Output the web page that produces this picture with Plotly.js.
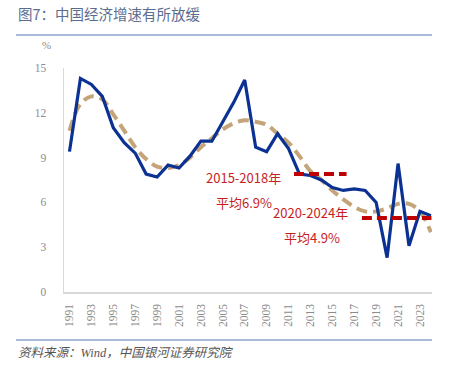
<!DOCTYPE html>
<html><head><meta charset="utf-8">
<script src="https://cdn.plot.ly/plotly-3.0.1.min.js"></script>
<style>html,body{margin:0;padding:0;background:#fff;}#chart{width:449px;height:377px;}</style>
</head><body><div id="chart"></div>
<script>
const years = [1991,1992,1993,1994,1995,1996,1997,1998,1999,2000,2001,2002,2003,2004,2005,2006,2007,2008,2009,2010,2011,2012,2013,2014,2015,2016,2017,2018,2019,2020,2021,2022,2023,2024];
const gdpGrowth = [9.4,14.3,13.9,13.1,11.0,10.0,9.3,7.9,7.7,8.5,8.3,9.1,10.1,10.1,11.4,12.7,14.2,9.7,9.4,10.6,9.6,7.9,7.8,7.5,7.0,6.8,6.9,6.8,6.0,2.3,8.6,3.1,5.4,5.1];
const trend = [10.8,12.6,13.1,12.9,11.9,10.8,9.7,8.9,8.4,8.3,8.5,9.0,9.7,10.3,10.9,11.3,11.5,11.4,11.2,10.6,10.0,9.1,8.1,7.5,6.8,6.2,5.7,5.4,5.4,5.6,5.9,5.9,5.4,4.0];
const avg1X = [2011.5, 2016.3];
const avg1Y = [7.9, 7.9];
const avg2X = [2017.7, 2024.05];
const avg2Y = [4.95, 4.95];
const yTicks = [0,3,6,9,12,15];
const xTicks = [1991,1993,1995,1997,1999,2001,2003,2005,2007,2009,2011,2013,2015,2017,2019,2021,2023];
const labels = ["2015-2018年","平均6.9%","2020-2024年","平均4.9%"];

const red = '#c00000';
const traces = [
  {x: years, y: trend, type:'scatter', mode:'lines', line:{color:'#c4a57a', width:4, dash:'11px,6px', shape:'spline'}, hoverinfo:'skip'},
  {x: years, y: gdpGrowth, type:'scatter', mode:'lines', line:{color:'#0b3192', width:3.2}, hoverinfo:'skip'},
  {x: avg1X, y: avg1Y, type:'scatter', mode:'lines', line:{color:red, width:4, dash:'10px,5px'}, hoverinfo:'skip'},
  {x: avg2X, y: avg2Y, type:'scatter', mode:'lines', line:{color:red, width:4, dash:'10px,5px'}, hoverinfo:'skip'}
];
const annFont = {family:'"Noto Sans CJK SC", "Noto Sans", sans-serif', size:13, color:'#c81e1e'};
const layout = {
  width:449, height:377,
  margin:{l:64, r:17, t:68, b:85},
  paper_bgcolor:'#fff', plot_bgcolor:'#fff',
  showlegend:false,
  xaxis:{type:'linear', range:[1990.5, 2024.1], tickvals:xTicks, ticktext:xTicks.map(String), tickangle:-90,
    showgrid:false, zeroline:false, showline:true, linecolor:'#d9d9d9', linewidth:1.5, ticks:'',
    ticklabelstandoff:6,
    tickfont:{family:'"Liberation Serif", serif', size:11.5, color:'#8c8c8c'}},
  yaxis:{range:[0,15], tickvals:yTicks, showgrid:false, zeroline:false, showline:true, linecolor:'#d9d9d9', linewidth:1.5, ticks:'',
    ticklabelstandoff:14,
    tickfont:{family:'"Liberation Serif", serif', size:11.5, color:'#8c8c8c'}},
  annotations:[
    {xref:'paper', yref:'paper', x:-64/368, y:1+(68-14)/224, xanchor:'left', yanchor:'middle', text:'图7：中国经济增速有所放缓', showarrow:false,
      font:{family:'"Noto Sans CJK SC", sans-serif', size:14.5, color:'#5b6d8f'}, xshift:16},
    {xref:'paper', yref:'paper', x:-18/368, y:1+(68-45)/224, xanchor:'center', yanchor:'middle', text:'%', showarrow:false,
      font:{family:'"Liberation Serif", serif', size:11, color:'#8c8c8c'}},
    {xref:'paper', yref:'paper', x:-64/368, y:-(353-292)/224, xanchor:'left', yanchor:'middle', xshift:16,
      text:'<i>资料来源：Wind，中国银河证券研究院</i>', showarrow:false,
      font:{family:'"Liberation Serif", "Noto Sans CJK SC", serif', size:12.5, color:'#555'}},
    {x:2006.9, y:7.7, text:labels[0], showarrow:false, xanchor:'center', yanchor:'middle', font:annFont},
    {x:2006.9, y:6.0, text:labels[1], showarrow:false, xanchor:'center', yanchor:'middle', font:annFont},
    {x:2013.0, y:5.3, text:labels[2], showarrow:false, xanchor:'center', yanchor:'middle', font:annFont},
    {x:2013.1, y:3.65, text:labels[3], showarrow:false, xanchor:'center', yanchor:'middle', font:annFont}
  ],
  shapes:[
    {type:'line', xref:'paper', yref:'paper', x0:-48/368, x1:1, y0:1+(68-35)/224, y1:1+(68-35)/224, line:{color:'#8ea5cc', width:1.5}},
    {type:'line', xref:'paper', yref:'paper', x0:-48/368, x1:1, y0:-(340-292)/224, y1:-(340-292)/224, line:{color:'#8ea5cc', width:1.5}}
  ]
};
Plotly.newPlot('chart', traces, layout, {displayModeBar:false, staticPlot:true});
</script>
</body></html>
